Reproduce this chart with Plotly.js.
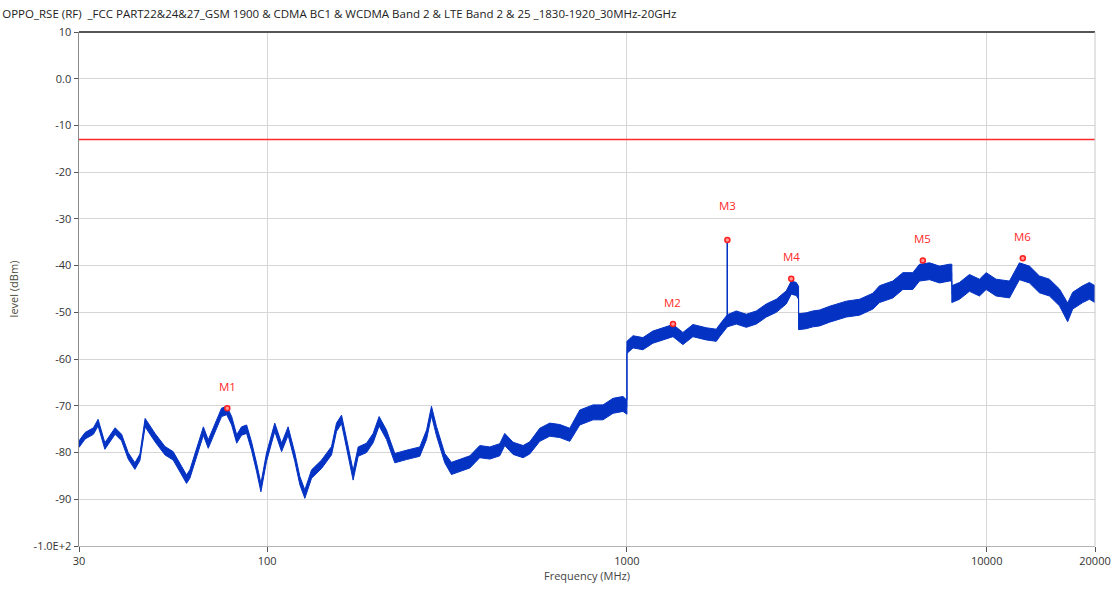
<!DOCTYPE html>
<html>
<head>
<meta charset="utf-8">
<script src="https://cdn.plot.ly/plotly-3.0.1.min.js"></script>
<style>html,body{margin:0;padding:0;background:#fff;}#chart{width:1117px;height:593px;}</style>
</head>
<body>
<div id="chart"></div>
<script>
// ---- data ----
const freqMHz = [30,31.2,32.9,33.9,35.4,37.8,39.4,41.1,42.9,44.3,45.8,48.8,52.0,54.8,57.9,59.7,61.0,63.0,66.5,68.6,71.6,74.7,77.2,79.7,82.3,84.9,87.7,90.5,93.5,96.1,99.6,105,109.7,114.4,119.4,123.3,127.3,132.9,141.7,151,155.9,161,166.2,173.4,179.1,188.9,197.1,204.8,214.7,226.4,244,265.7,277.4,286.3,295.6,311.7,325.3,343.2,366,390,415.9,443.2,457.6,482.7,514.6,537,572.5,610.3,650.7,693.7,739.6,805,858.2,915,975.3,1000,
  1000,1040,1108,1181,1260,1343,1431,1526,1662,1772,1810,1902,1902,1902,2014,2147,2289,2440,2601,2773,2863,2956,3000,
  3000,3150,3288,3433,3658,4072,4432,4827,5037,5484,5848,6232,6505,6937,7395,7882,8000,8000,8403,8955,9549,9966,10620,11570,12330,13150,14010,14940,15930,16790,17340,18490,19300,20000];
const levelDbm = [-78.2,-76.4,-75.4,-73.6,-78.6,-75.4,-76.8,-80.7,-82.9,-81,-73.6,-76.8,-79.6,-80.7,-83.9,-85.7,-84.6,-81,-75.4,-78.2,-74.6,-71.4,-71.0,-73.2,-77.1,-75.4,-75,-78.6,-83.2,-87.5,-81,-74.6,-78.9,-75.4,-81,-86,-88.9,-84.6,-82.5,-79.6,-74.6,-72.9,-78,-84.9,-79.8,-79,-76.9,-73.3,-76.2,-81.2,-80.5,-79.8,-76.2,-71.1,-75.4,-81.2,-83.4,-82.7,-82,-79.8,-80.1,-79.4,-77.2,-79.1,-79.8,-79,-76.2,-75.1,-75.4,-76.2,-72.5,-71.4,-71.4,-70,-69.6,-70.3,
  -57.5,-56.3,-56.7,-55.3,-54.6,-53.9,-55.6,-53.9,-54.6,-54.9,-53.9,-51.8,-34.7,-51.8,-51.1,-51.8,-51.1,-49.6,-48.6,-46.8,-44.7,-45,-45.8,
  -52.0,-51.8,-51.4,-51.2,-50.4,-49.3,-48.9,-47.6,-46.1,-45.1,-43.3,-43.3,-41.5,-41.2,-41.9,-41.5,-41.5,-46.1,-45.4,-43.7,-44.7,-43.3,-44.7,-45.1,-41.2,-41.9,-44,-44.7,-46.8,-50.0,-47.5,-46.1,-45.4,-46.1];
const spreadDb = [0.7,0.7,0.7,0.7,0.7,0.7,0.7,0.7,0.7,0.7,0.9,0.9,0.9,0.9,0.9,0.9,0.9,0.9,0.9,0.9,0.9,0.9,0.9,0.9,0.9,0.9,0.9,0.9,0.9,0.9,0.9,0.9,0.9,0.9,0.9,0.9,0.9,0.9,0.9,0.9,0.9,0.9,1.0,1.0,1.0,1.0,1.0,1.0,1.0,1.0,1.0,1.0,1.0,1.0,1.0,1.0,1.3,1.3,1.3,1.3,1.3,1.3,1.3,1.3,1.3,1.3,1.4,1.4,1.4,1.4,1.6,1.6,1.6,1.6,1.6,1.5,
  1.3,1.3,1.3,1.3,1.3,1.3,1.3,1.3,1.3,1.3,1.3,1.3,0,1.3,1.4,1.4,1.4,1.4,1.4,1.4,1.4,1.4,1.4,
  1.7,1.7,1.7,1.7,1.7,1.7,1.7,1.7,1.8,1.8,1.8,1.8,1.8,1.8,1.8,1.8,1.8,1.8,1.8,1.8,1.8,1.8,1.8,1.8,1.8,1.8,1.8,1.8,1.8,2.0,1.8,1.8,1.8,1.8];
const limitFreq = [30, 20000];
const limitDbm = [-13, -13];
const markerNames = ['M1','M2','M3','M4','M5','M6'];
const markerFreq = [77.5, 1343, 1902, 2863, 6645, 12600];
const markerDbm = [-70.5, -52.5, -34.5, -42.8, -38.9, -38.4];
const yTickVals = [10,0,-10,-20,-30,-40,-50,-60,-70,-80,-90,-100];
const yTickText = ['10','0.0','-10','-20','-30','-40','-50','-60','-70','-80','-90','-1.0E+2'];
const xTickVals = [30,100,1000,10000,20000];
const xTickText = ['30','100','1000','10000','20000'];
const chartTitle = 'OPPO_RSE (RF)  _FCC PART22&24&27_GSM 1900 & CDMA BC1 & WCDMA Band 2 & LTE Band 2 & 25 _1830-1920_30MHz-20GHz';

// ---- drawing ----
const lo = levelDbm.map((v,i)=>v-spreadDb[i]);
const hi = levelDbm.map((v,i)=>v+spreadDb[i]);
const BLUE = '#0433c4';
const FONT = 'Open Sans, Noto Sans, sans-serif';

const traces = [
  {x: freqMHz, y: levelDbm, mode:'lines', line:{color:'#5a7de0', width:1}, name:'level', showlegend:false},
  {x: freqMHz, y: lo, mode:'lines', line:{color:BLUE, width:1}, hoverinfo:'skip', showlegend:false},
  {x: freqMHz, y: hi, mode:'lines', line:{color:BLUE, width:1}, fill:'tonexty', fillcolor:BLUE, hoverinfo:'skip', showlegend:false},
  {x: limitFreq, y: limitDbm, mode:'lines', line:{color:'#ff2a2a', width:1.5}, name:'limit', showlegend:false},
  {x: markerFreq, y: markerDbm, mode:'markers', marker:{size:5, color:'#ff9a9a', line:{color:'#ff1f1f', width:1.5}}, name:'markers', showlegend:false}
];

const labelShift = [22, 22, 34, 22, 22, 22];
const annotations = markerNames.map((n,i)=>({
  x: Math.log10(markerFreq[i]), y: markerDbm[i], xref:'x', yref:'y', text:n, showarrow:false,
  yshift: labelShift[i], font:{family:FONT, size:11.5, color:'#ff2a2a'}
}));

const layout = {
  width:1117, height:593,
  margin:{l:79, r:22, t:32, b:47},
  paper_bgcolor:'#fff', plot_bgcolor:'#fff',
  font:{family:FONT, size:11, color:'#333'},
  title:{text: chartTitle, x:0.002, xref:'container', xanchor:'left', y:0.977, yref:'container', yanchor:'middle', font:{family:FONT, size:11.5, color:'#222'}},
  xaxis:{type:'log', range:[Math.log10(30), Math.log10(20000)], tickvals:xTickVals, ticktext:xTickText,
    showgrid:true, gridcolor:'#d6d6d6', gridwidth:1, showline:true, linecolor:'#b5b5b5', linewidth:1,
    ticks:'outside', ticklen:5, tickcolor:'#555', tickfont:{size:11, color:'#333'}, zeroline:false,
    title:{text:'Frequency (MHz)', font:{size:11, color:'#444'}, standoff:4}},
  yaxis:{range:[-100,10], tickvals:yTickVals, ticktext:yTickText,
    showgrid:true, gridcolor:'#d6d6d6', gridwidth:1, showline:true, linecolor:'#8a8a8a', linewidth:1.5,
    ticks:'outside', ticklen:4, tickcolor:'#555', tickfont:{size:11, color:'#333'}, zeroline:false,
    title:{text:'level (dBm)', font:{size:11, color:'#4a4a3a'}, standoff:12}},
  shapes:[
    {type:'line', xref:'paper', yref:'paper', x0:0, x1:1, y0:1, y1:1, line:{color:'#555', width:2}},
    {type:'line', xref:'paper', yref:'paper', x0:1, x1:1, y0:0, y1:1, line:{color:'#c8c8c8', width:1}}
  ],
  annotations: annotations,
  showlegend:false
};

Plotly.newPlot('chart', traces, layout, {displayModeBar:false, staticPlot:true});
</script>
</body>
</html>
